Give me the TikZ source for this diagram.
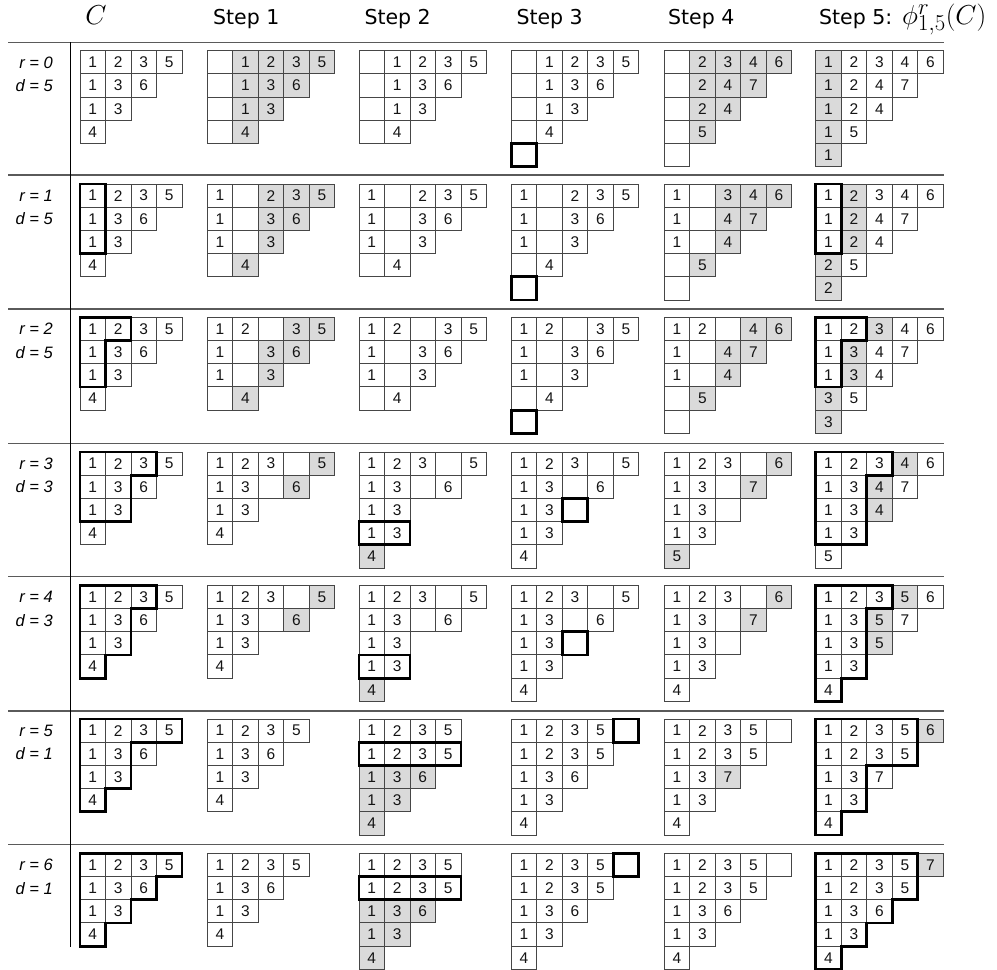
\documentclass[tikz,border=0pt]{standalone}
\usepackage{fontspec}
\newfontfamily\hdrfont{DejaVu Sans}
\newfontfamily\numfont{Liberation Sans}
\definecolor{cellgray}{RGB}{218,218,218}
\definecolor{cellline}{RGB}{70,70,70}
\definecolor{sepline}{RGB}{90,90,90}
\tikzset{
  gfill/.style={fill=cellgray},
  cellbox/.style={draw=cellline,line width=0.9pt},
  cellnum/.style={font=\numfont\fontsize{15.5}{15.5}\selectfont,inner sep=0pt,text=black!92},
  heavy/.style={draw=black,line width=2.8pt,line join=miter},
  lab/.style={font=\numfont\itshape\fontsize{16.5}{18}\selectfont,inner sep=0pt,anchor=base east},
  hdr/.style={font=\hdrfont\fontsize{20.5}{24}\selectfont,inner sep=0pt,anchor=base west},
  mhdr/.style={font=\fontsize{24.88}{28}\selectfont,inner sep=0pt,scale=1.1},
  sep/.style={draw=sepline,line width=1.2pt},
  vsep/.style={draw=black,line width=1.3pt}
}
\newcommand\Tab[6]{%
\begin{scope}[shift={(#2,#3)},x=25.5pt,y=-23.2pt]
\if\relax\detokenize{#5}\relax\else
\foreach \gi/\gj in {#5}{\fill[gfill] (\gj,\gi) rectangle ++(1,1);}
\fi
\foreach \row [count=\i from 0] in {#4}{%
  \foreach \e [count=\j from 0] in \row {%
    \draw[cellbox] (\j,\i) rectangle ++(1,1);
    \ifnum\e>0 \node[cellnum] (#1-\i-\j) at (\j+0.5,\i+0.5) {\e};\fi
  }}
\if\relax\detokenize{#6}\relax\else
\draw[heavy] #6;
\fi
\end{scope}}
\begin{document}
\begin{tikzpicture}[x=1pt,y=-1pt]
\useasboundingbox (0,0) rectangle (997,970);
% headers
\node[mhdr,anchor=base] (hC) at (96,24) {$C$};
\node[hdr] (h1) at (212.9,24) {Step 1};
\node[hdr] (h2) at (364.3,24) {Step 2};
\node[hdr] (h3) at (516.3,24) {Step 3};
\node[hdr] (h4) at (667.9,24) {Step 4};
\node[hdr] (h5) at (818.9,24) {Step 5:\hspace{10pt}\scalebox{1.1}{\fontsize{24.88}{28}\selectfont$\phi^r_{1,5}(C)$}};
% rules
\foreach \yy in {42.3,175,309,443.3,576.5,711,844.3}{\draw[sep] (8.3,\yy) -- (943.7,\yy);}
\draw[vsep] (70.3,42.3) -- (70.3,946.5);
% row labels
\node[lab] (r0) at (53,68.3) {r = 0};
\node[lab] (d0) at (53,91.5) {d = 5};
\node[lab] (r1) at (53,201.6) {r = 1};
\node[lab] (d1) at (53,224.8) {d = 5};
\node[lab] (r2) at (53,334.9) {r = 2};
\node[lab] (d2) at (53,358.1) {d = 5};
\node[lab] (r3) at (53,469.6) {r = 3};
\node[lab] (d3) at (53,492.8) {d = 3};
\node[lab] (r4) at (53,602.9) {r = 4};
\node[lab] (d4) at (53,626.1) {d = 3};
\node[lab] (r5) at (53,736.6) {r = 5};
\node[lab] (d5) at (53,759.8) {d = 1};
\node[lab] (r6) at (53,870.9) {r = 6};
\node[lab] (d6) at (53,894.1) {d = 1};
% row 0
\Tab{a0}{80}{50.7}{{1,2,3,5},{1,3,6},{1,3},{4}}{}{}
\Tab{b0}{207.3}{50.7}{{0,1,2,3,5},{0,1,3,6},{0,1,3},{0,4}}{0/1,0/2,0/3,0/4,1/1,1/2,1/3,2/1,2/2,3/1}{}
\Tab{c0}{359}{50.7}{{0,1,2,3,5},{0,1,3,6},{0,1,3},{0,4}}{}{}
\Tab{d0}{511.3}{50.7}{{0,1,2,3,5},{0,1,3,6},{0,1,3},{0,4},{0}}{}{(0,4) rectangle (1,5)}
\Tab{e0}{664.3}{50.7}{{0,2,3,4,6},{0,2,4,7},{0,2,4},{0,5},{0}}{0/1,0/2,0/3,0/4,1/1,1/2,1/3,2/1,2/2,3/1}{}
\Tab{f0}{815.7}{50.7}{{1,2,3,4,6},{1,2,4,7},{1,2,4},{1,5},{1}}{0/0,1/0,2/0,3/0,4/0}{}
% row 1
\Tab{a1}{80}{184}{{1,2,3,5},{1,3,6},{1,3},{4}}{}{(0,0) rectangle (1,3)}
\Tab{b1}{207.3}{184}{{1,0,2,3,5},{1,0,3,6},{1,0,3},{0,4}}{0/2,0/3,0/4,1/2,1/3,2/2,3/1}{}
\Tab{c1}{359}{184}{{1,0,2,3,5},{1,0,3,6},{1,0,3},{0,4}}{}{}
\Tab{d1}{511.3}{184}{{1,0,2,3,5},{1,0,3,6},{1,0,3},{0,4},{0}}{}{(0,4) rectangle (1,5)}
\Tab{e1}{664.3}{184}{{1,0,3,4,6},{1,0,4,7},{1,0,4},{0,5},{0}}{0/2,0/3,0/4,1/2,1/3,2/2,3/1}{}
\Tab{f1}{815.7}{184}{{1,2,3,4,6},{1,2,4,7},{1,2,4},{2,5},{2}}{0/1,1/1,2/1,3/0,4/0}{(0,0) rectangle (1,3)}
% row 2
\Tab{a2}{80}{317.3}{{1,2,3,5},{1,3,6},{1,3},{4}}{}{(0,0) -- (2,0) -- (2,1) -- (1,1) -- (1,3) -- (0,3) -- cycle}
\Tab{b2}{207.3}{317.3}{{1,2,0,3,5},{1,0,3,6},{1,0,3},{0,4}}{0/3,0/4,1/2,1/3,2/2,3/1}{}
\Tab{c2}{359}{317.3}{{1,2,0,3,5},{1,0,3,6},{1,0,3},{0,4}}{}{}
\Tab{d2}{511.3}{317.3}{{1,2,0,3,5},{1,0,3,6},{1,0,3},{0,4},{0}}{}{(0,4) rectangle (1,5)}
\Tab{e2}{664.3}{317.3}{{1,2,0,4,6},{1,0,4,7},{1,0,4},{0,5},{0}}{0/3,0/4,1/2,1/3,2/2,3/1}{}
\Tab{f2}{815.7}{317.3}{{1,2,3,4,6},{1,3,4,7},{1,3,4},{3,5},{3}}{0/2,1/1,2/1,3/0,4/0}{(0,0) -- (2,0) -- (2,1) -- (1,1) -- (1,3) -- (0,3) -- cycle}
% row 3
\Tab{a3}{80}{452}{{1,2,3,5},{1,3,6},{1,3},{4}}{}{(0,0) -- (3,0) -- (3,1) -- (2,1) -- (2,3) -- (0,3) -- cycle}
\Tab{b3}{207.3}{452}{{1,2,3,0,5},{1,3,0,6},{1,3},{4}}{0/4,1/3}{}
\Tab{c3}{359}{452}{{1,2,3,0,5},{1,3,0,6},{1,3},{1,3},{4}}{4/0}{(0,3) rectangle (2,4)}
\Tab{d3}{511.3}{452}{{1,2,3,0,5},{1,3,0,6},{1,3,0},{1,3},{4}}{}{(2,2) rectangle (3,3)}
\Tab{e3}{664.3}{452}{{1,2,3,0,6},{1,3,0,7},{1,3,0},{1,3},{5}}{0/4,1/3,4/0}{}
\Tab{f3}{815.7}{452}{{1,2,3,4,6},{1,3,4,7},{1,3,4},{1,3},{5}}{0/3,1/2,2/2}{(0,0) -- (3,0) -- (3,1) -- (2,1) -- (2,4) -- (0,4) -- cycle}
% row 4
\Tab{a4}{80}{585.3}{{1,2,3,5},{1,3,6},{1,3},{4}}{}{(0,0) -- (3,0) -- (3,1) -- (2,1) -- (2,3) -- (1,3) -- (1,4) -- (0,4) -- cycle}
\Tab{b4}{207.3}{585.3}{{1,2,3,0,5},{1,3,0,6},{1,3},{4}}{0/4,1/3}{}
\Tab{c4}{359}{585.3}{{1,2,3,0,5},{1,3,0,6},{1,3},{1,3},{4}}{4/0}{(0,3) rectangle (2,4)}
\Tab{d4}{511.3}{585.3}{{1,2,3,0,5},{1,3,0,6},{1,3,0},{1,3},{4}}{}{(2,2) rectangle (3,3)}
\Tab{e4}{664.3}{585.3}{{1,2,3,0,6},{1,3,0,7},{1,3,0},{1,3},{4}}{0/4,1/3}{}
\Tab{f4}{815.7}{585.3}{{1,2,3,5,6},{1,3,5,7},{1,3,5},{1,3},{4}}{0/3,1/2,2/2}{(0,0) -- (3,0) -- (3,1) -- (2,1) -- (2,4) -- (1,4) -- (1,5) -- (0,5) -- cycle}
% row 5
\Tab{a5}{80}{719}{{1,2,3,5},{1,3,6},{1,3},{4}}{}{(0,0) -- (4,0) -- (4,1) -- (2,1) -- (2,3) -- (1,3) -- (1,4) -- (0,4) -- cycle}
\Tab{b5}{207.3}{719}{{1,2,3,5},{1,3,6},{1,3},{4}}{}{}
\Tab{c5}{359}{719}{{1,2,3,5},{1,2,3,5},{1,3,6},{1,3},{4}}{2/0,2/1,2/2,3/0,3/1,4/0}{(0,1) rectangle (4,2)}
\Tab{d5}{511.3}{719}{{1,2,3,5,0},{1,2,3,5},{1,3,6},{1,3},{4}}{}{(4,0) rectangle (5,1)}
\Tab{e5}{664.3}{719}{{1,2,3,5,0},{1,2,3,5},{1,3,7},{1,3},{4}}{2/2}{}
\Tab{f5}{815.7}{719}{{1,2,3,5,6},{1,2,3,5},{1,3,7},{1,3},{4}}{0/4}{(0,0) -- (4,0) -- (4,2) -- (2,2) -- (2,4) -- (1,4) -- (1,5) -- (0,5) -- cycle}
% row 6
\Tab{a6}{80}{853.3}{{1,2,3,5},{1,3,6},{1,3},{4}}{}{(0,0) -- (4,0) -- (4,1) -- (3,1) -- (3,2) -- (2,2) -- (2,3) -- (1,3) -- (1,4) -- (0,4) -- cycle}
\Tab{b6}{207.3}{853.3}{{1,2,3,5},{1,3,6},{1,3},{4}}{}{}
\Tab{c6}{359}{853.3}{{1,2,3,5},{1,2,3,5},{1,3,6},{1,3},{4}}{2/0,2/1,2/2,3/0,3/1,4/0}{(0,1) rectangle (4,2)}
\Tab{d6}{511.3}{853.3}{{1,2,3,5,0},{1,2,3,5},{1,3,6},{1,3},{4}}{}{(4,0) rectangle (5,1)}
\Tab{e6}{664.3}{853.3}{{1,2,3,5,0},{1,2,3,5},{1,3,6},{1,3},{4}}{}{}
\Tab{f6}{815.7}{853.3}{{1,2,3,5,7},{1,2,3,5},{1,3,6},{1,3},{4}}{0/4}{(0,0) -- (4,0) -- (4,2) -- (3,2) -- (3,3) -- (2,3) -- (2,4) -- (1,4) -- (1,5) -- (0,5) -- cycle}
\end{tikzpicture}
\end{document}
